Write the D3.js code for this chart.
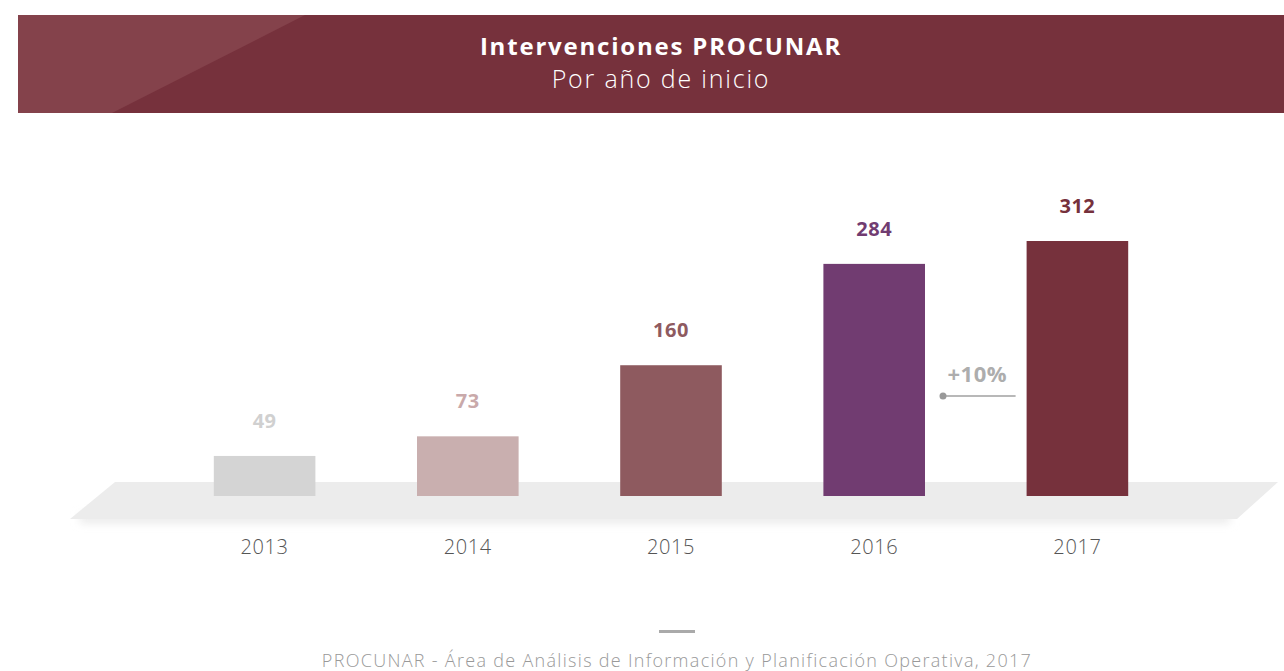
<!DOCTYPE html>
<html>
<head>
<meta charset="utf-8">
<script src="https://cdn.jsdelivr.net/npm/d3@7"></script>
<style>
  body { margin: 0; background: #fff; }
  svg { display: block; font-family: "Open Sans", sans-serif; }
</style>
</head>
<body>
<div id="chart-area"></div>
<script>
const years = ["2013", "2014", "2015", "2016", "2017"];
const values = [49, 73, 160, 284, 312];
const barColors = ["#d4d4d4", "#c9afaf", "#8e5a5f", "#713c71", "#76313c"];
const labelColors = ["#d0d0d0", "#c9a9aa", "#8e5a5f", "#713c71", "#76313c"];
const title = "Intervenciones PROCUNAR";
const subtitle = "Por año de inicio";
const growthLabel = "+10%";
const source = "PROCUNAR - Área de Análisis de Información y Planificación Operativa, 2017";

const W = 1284, H = 671;

const svg = d3.select("#chart-area").append("svg")
	.attr("width", W)
	.attr("height", H);

const defs = svg.append("defs");
defs.append("filter")
	.attr("id", "blur")
	.attr("x", "-10%").attr("y", "-200%")
	.attr("width", "120%").attr("height", "500%")
	.append("feGaussianBlur")
	.attr("stdDeviation", 4);

// header band
svg.append("rect")
	.attr("x", 18).attr("y", 15)
	.attr("width", W - 18).attr("height", 98)
	.attr("fill", "#76313c");
svg.append("polygon")
	.attr("points", "18,15 305,15 112,113 18,113")
	.attr("fill", "#84424b");

svg.append("text")
	.attr("x", 661).attr("y", 55)
	.attr("text-anchor", "middle")
	.attr("fill", "#fff")
	.attr("font-size", 24)
	.attr("font-weight", 700)
	.attr("letter-spacing", 1.8)
	.text(title);
svg.append("text")
	.attr("x", 661).attr("y", 88)
	.attr("text-anchor", "middle")
	.attr("fill", "#fff")
	.attr("font-size", 25)
	.attr("font-weight", 300)
	.attr("letter-spacing", 1.8)
	.text(subtitle);

const x = d3.scaleBand()
	.domain(years)
	.range([163, 1179])
	.paddingInner(0.5)
	.paddingOuter(0.25);

const y = d3.scaleLinear()
	.domain([0, 312])
	.range([496, 241]);

const color = d3.scaleOrdinal().domain(years).range(barColors);
const labelColor = d3.scaleOrdinal().domain(years).range(labelColors);

const data = years.map((d, i) => ({ year: d, value: values[i] }));

// platform shadow + platform
svg.append("rect")
	.attr("x", 80).attr("y", 514)
	.attr("width", 1150).attr("height", 9)
	.attr("fill", "#e9e9e9")
	.attr("filter", "url(#blur)");
svg.append("polygon")
	.attr("points", "115,482 1278,482 1237,519 70,519")
	.attr("fill", "#ececec");

svg.selectAll(".bar")
	.data(data)
	.enter()
	.append("rect")
	.attr("class", "bar")
	.attr("x", d => x(d.year))
	.attr("y", d => y(d.value))
	.attr("width", x.bandwidth())
	.attr("height", d => y(0) - y(d.value))
	.attr("fill", d => color(d.year));

svg.selectAll(".val")
	.data(data)
	.enter()
	.append("text")
	.attr("class", "val")
	.attr("x", d => x(d.year) + x.bandwidth() / 2)
	.attr("y", d => y(d.value) - 28)
	.attr("text-anchor", "middle")
	.attr("font-size", 20)
	.attr("font-weight", 700)
	.attr("letter-spacing", 0.5)
	.attr("fill", d => labelColor(d.year))
	.text(d => d.value);

svg.selectAll(".year")
	.data(data)
	.enter()
	.append("text")
	.attr("class", "year")
	.attr("x", d => x(d.year) + x.bandwidth() / 2)
	.attr("y", 554)
	.attr("text-anchor", "middle")
	.attr("font-size", 20)
	.attr("font-weight", 300)
	.attr("letter-spacing", 0.6)
	.attr("fill", "#555")
	.text(d => d.year);

// growth annotation between 2016 and 2017
const gx0 = x("2016") + x.bandwidth() + 18;
const gx1 = x("2017") - 11;
svg.append("line")
	.attr("x1", gx0).attr("x2", gx1)
	.attr("y1", 396).attr("y2", 396)
	.attr("stroke", "#a0a0a0")
	.attr("stroke-width", 1.5);
svg.append("circle")
	.attr("cx", gx0).attr("cy", 396).attr("r", 3.5)
	.attr("fill", "#999");
svg.append("text")
	.attr("x", (gx0 + gx1) / 2 - 2).attr("y", 382)
	.attr("text-anchor", "middle")
	.attr("font-size", 22)
	.attr("font-weight", 700)
	.attr("letter-spacing", 0.5)
	.attr("fill", "#adadad")
	.text(growthLabel);

// footer
svg.append("rect")
	.attr("x", 659).attr("y", 630)
	.attr("width", 36).attr("height", 3)
	.attr("fill", "#aaa");
svg.append("text")
	.attr("x", 677).attr("y", 667)
	.attr("text-anchor", "middle")
	.attr("font-size", 18)
	.attr("font-weight", 300)
	.attr("letter-spacing", 1.3)
	.attr("fill", "#999")
	.text(source);
</script>
</body>
</html>
